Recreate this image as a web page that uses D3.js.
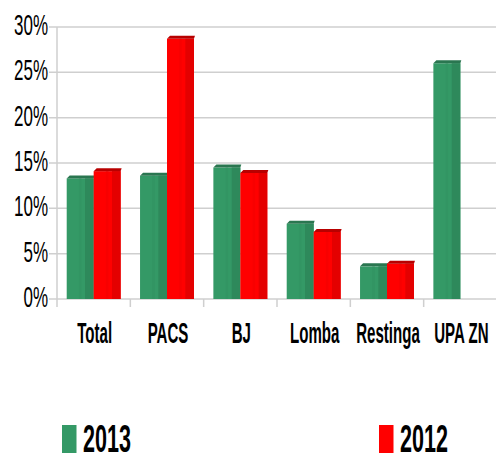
<!DOCTYPE html>
<html>
<head>
<meta charset="utf-8">
<script src="https://cdn.jsdelivr.net/npm/d3@7"></script>
<style>
  body { margin: 0; background: #fff; }
  svg { display: block; }
  text { font-family: "Liberation Sans", Arial, sans-serif; fill: #000; }
</style>
</head>
<body>
<div id="chart"></div>
<script>
// data
var categories = ["Total", "PACS", "BJ", "Lomba", "Restinga", "UPA ZN"];
var series = ["2013", "2012"];
var values2013 = [0.133, 0.136, 0.145, 0.083, 0.036, 0.260];
var values2012 = [0.141, 0.287, 0.139, 0.074, 0.039, 0];
var yTicks = [0, 0.05, 0.10, 0.15, 0.20, 0.25, 0.30];

var colors = {
  "2013": {face: "#349966", side: "#2e895b", top: "#2a7650"},
  "2012": {face: "#ff0000", side: "#e40000", top: "#b80000"}
};

var width = 496, height = 453;
var plot = {left: 57, right: 497, top: 27, bottom: 299};

var rows = categories.map(function(c, i) {
  return {name: c, values: [
    {key: "2013", value: values2013[i]},
    {key: "2012", value: values2012[i]}
  ]};
});

var svg = d3.select("#chart").append("svg")
    .attr("width", width)
    .attr("height", height);

var x = d3.scaleBand()
    .domain(categories)
    .range([plot.left, plot.right]);

var x1 = d3.scaleBand()
    .domain(series)
    .range([0, x.bandwidth()])
    .paddingOuter(0.36);

var y = d3.scaleLinear()
    .domain([0, 0.30])
    .range([plot.bottom, plot.top]);

// gridlines + y ticks
svg.append("g")
    .selectAll("line")
    .data(yTicks)
    .enter().append("line")
      .attr("x1", plot.left - 8)
      .attr("x2", width)
      .attr("y1", function(d) { return y(d); })
      .attr("y2", function(d) { return y(d); })
      .attr("stroke", "#cfcfcf")
      .attr("stroke-width", 1.5);

svg.append("g")
    .selectAll("text")
    .data(yTicks)
    .enter().append("text")
      .attr("text-anchor", "end")
      .attr("font-size", 20)
      .attr("transform", function(d) {
        return "translate(48," + (y(d) + 8) + ") scale(0.85,1.47)";
      })
      .text(function(d) { return d3.format(".0%")(d); });

// axis lines
svg.append("line")
    .attr("x1", plot.left).attr("x2", plot.left)
    .attr("y1", plot.top).attr("y2", plot.bottom + 8)
    .attr("stroke", "#cfcfcf").attr("stroke-width", 1.5);

svg.append("g")
    .selectAll("line")
    .data(categories.slice(1))
    .enter().append("line")
      .attr("x1", function(d) { return x(d); })
      .attr("x2", function(d) { return x(d); })
      .attr("y1", plot.bottom)
      .attr("y2", plot.bottom + 8)
      .attr("stroke", "#cfcfcf").attr("stroke-width", 1.5);

// bars
var group = svg.append("g")
  .selectAll("g")
  .data(rows)
  .enter().append("g")
    .attr("transform", function(d) { return "translate(" + x(d.name) + ",0)"; });

var bar = group.selectAll("g")
    .data(function(d) { return d.values; })
    .enter().append("g")
      .attr("transform", function(d) { return "translate(" + x1(d.key) + ",0)"; });

var bw = x1.bandwidth();

bar.append("rect")
    .attr("y", function(d) { return y(d.value); })
    .attr("width", bw)
    .attr("height", function(d) { return plot.bottom - y(d.value); })
    .attr("fill", function(d) { return colors[d.key].face; });

bar.append("rect")
    .attr("x", bw * 0.45)
    .attr("y", function(d) { return y(d.value); })
    .attr("width", bw * 0.1)
    .attr("height", function(d) { return plot.bottom - y(d.value); })
    .attr("fill", function(d) { return colors[d.key].face; })
    .attr("opacity", 0.6)
    .style("filter", "brightness(0.96)");

bar.append("rect")
    .attr("x", bw * 0.68)
    .attr("y", function(d) { return y(d.value); })
    .attr("width", bw * 0.32)
    .attr("height", function(d) { return plot.bottom - y(d.value); })
    .attr("fill", function(d) { return colors[d.key].side; });

bar.filter(function(d) { return d.value > 0; })
  .append("path")
    .attr("d", function(d) {
      var t = y(d.value);
      return "M0," + t + "L3," + (t - 3) + "L" + (bw + 1) + "," + (t - 3) + "L" + bw + "," + t + "Z";
    })
    .attr("fill", function(d) { return colors[d.key].top; });

// category labels
svg.append("g")
  .selectAll("text")
  .data(categories)
  .enter().append("text")
    .attr("text-anchor", "middle")
    .attr("font-size", 20)
    .attr("font-weight", "bold")
    .attr("transform", function(d) {
      return "translate(" + (x(d) + x.bandwidth() / 2 + 1) + ",343) scale(0.753,1.43)";
    })
    .text(function(d) { return d; });

// legend
var legendX = {"2013": 62, "2012": 379};
var legend = svg.append("g")
  .selectAll("g")
  .data(series)
  .enter().append("g")
    .attr("transform", function(d) { return "translate(" + legendX[d] + ",0)"; });

legend.append("rect")
    .attr("y", 425)
    .attr("width", 14.5)
    .attr("height", 28)
    .attr("fill", function(d) { return colors[d].face; });

legend.append("text")
    .attr("font-size", 28)
    .attr("font-weight", "bold")
    .attr("transform", "translate(21,451.5) scale(0.77,1.41)")
    .text(function(d) { return d; });
</script>
</body>
</html>
